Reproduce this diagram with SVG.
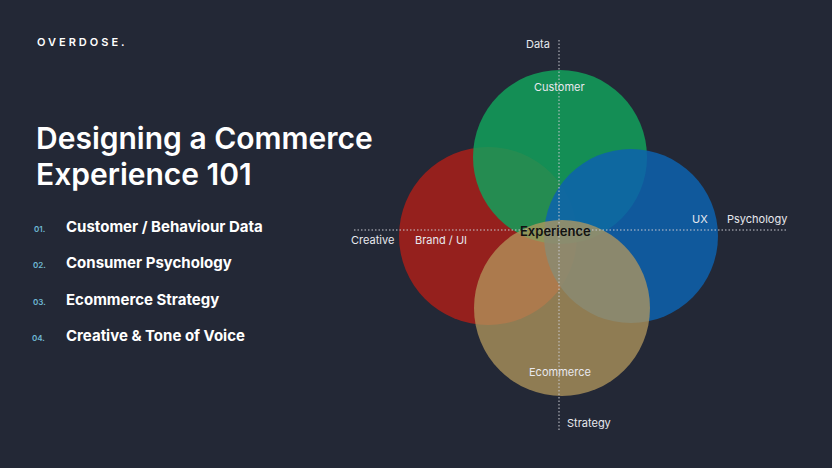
<svg xmlns="http://www.w3.org/2000/svg" width="832" height="468" viewBox="0 0 832 468">
<style>
text{font-family:Inter,"Open Sans",sans-serif;fill:#fff}
.t{font-size:30px;font-weight:600}
.it{font-size:15px;font-weight:700}
.n{font-size:8px;fill:#6fb8d4;font-weight:600}
.l{font-size:11px;fill:#e8e8ee}
.ax{stroke:#c8c8d0;stroke-width:1;stroke-dasharray:1.5 2;fill:none}
</style>
<rect width="832" height="468" fill="#232836"/>
<text x="37" y="46" font-size="11" font-weight="600" letter-spacing="3">OVERDOSE.</text>
<text class="t" x="36" y="149">Designing a Commerce</text>
<text class="t" x="36" y="185">Experience 101</text>
<text class="n" x="34" y="232">01.</text><text class="it" x="66" y="232">Customer / Behaviour Data</text>
<text class="n" x="33" y="268">02.</text><text class="it" x="66" y="268">Consumer Psychology</text>
<text class="n" x="33" y="305">03.</text><text class="it" x="66" y="305">Ecommerce Strategy</text>
<text class="n" x="32" y="341">04.</text><text class="it" x="66" y="341">Creative &amp; Tone of Voice</text>
<g id="red"><circle cx="488" cy="236" r="89" fill="#9c201c" opacity="0.95"/></g>
<g id="green"><circle cx="560" cy="157" r="87" fill="#12a05a" opacity="0.85"/></g>
<g id="blue"><circle cx="631" cy="236" r="87" fill="#0d62ae" opacity="0.85"/></g>
<g id="tan"><circle cx="562" cy="308" r="88" fill="#b4985e" opacity="0.75"/></g>
<g id="connectors">
<line class="ax" x1="559" y1="40" x2="559" y2="430"/>
<line class="ax" x1="354" y1="230" x2="787" y2="230"/>
</g>
<text class="l" x="526" y="48">Data</text>
<text class="l" x="534" y="91">Customer</text>
<text class="l" x="351" y="244">Creative</text>
<text class="l" x="415" y="244">Brand / UI</text>
<text class="l" x="692" y="223">UX</text>
<text class="l" x="727" y="223">Psychology</text>
<text class="l" x="529" y="376">Ecommerce</text>
<text class="l" x="567" y="427">Strategy</text>
<text x="520" y="236" font-size="13" font-weight="600" style="fill:#111">Experience</text>
</svg>
